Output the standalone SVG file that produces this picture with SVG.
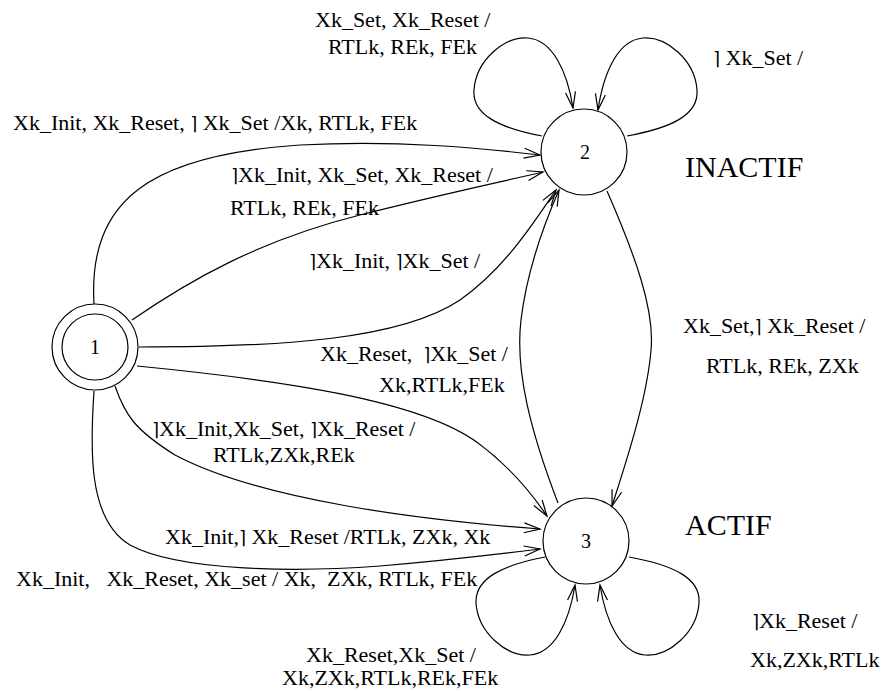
<svg xmlns="http://www.w3.org/2000/svg" width="882" height="691" viewBox="0 0 882 691" font-family="'Liberation Serif', 'Times New Roman', Times, serif">
  <style>
    .bg { fill: #ffffff; }
    .state { fill: #ffffff; stroke: #000000; stroke-width: 1.2; }
    text { font-family: "Liberation Serif", "Times New Roman", Times, serif; fill: #000000; }
    .num { font-size: 20px; text-anchor: middle; }
    .name { font-size: 30px; }
    .lbl { font-size: 22px; white-space: pre; }
    .neg { font-family: "DejaVu Sans", sans-serif; font-size: 18px; }
    .edge { fill: none; stroke: #000000; stroke-width: 1.2; marker-end: url(#arr); }
  </style>
  <defs>
    <!-- open V arrowhead -->
    <marker id="arr" markerUnits="userSpaceOnUse" markerWidth="18" markerHeight="12" refX="16" refY="5" orient="auto" overflow="visible">
      <path d="M0,0 L16,5 L0,10" fill="none" stroke="#000000" stroke-width="1.2"/>
    </marker>
  </defs>

  <rect class="bg" x="0" y="0" width="882" height="691"/>

  <!-- transitions -->
  <g id="connectors">
    <!-- 1 -> 2 -->
    <path class="edge" d="M94,304 C88,200 150,155 300,145 C400,140 480,148 540,155"/>
    <path class="edge" d="M132,320 C190,280 260,240 360,215 C430,197 500,182 543,172"/>
    <path class="edge" d="M139,347 C280,347 400,340 460,300 C505,268 532,225 556,190"/>
    <!-- 1 -> 3 -->
    <path class="edge" d="M137,366 C280,380 420,400 478,443 C505,463 528,488 547,516"/>
    <path class="edge" d="M115,386 C125,415 135,430 175,455 C260,500 420,520 540,529"/>
    <path class="edge" d="M94,391 C90,450 88,520 130,545 C180,572 300,572 380,566 C440,561 500,554 540,549"/>
    <!-- 2 -> 3 and 3 -> 2 -->
    <path class="edge" d="M607,191 C635,255 655,310 651,350 C647,400 625,465 612,506"/>
    <path class="edge" d="M558,503 C530,430 515,370 521,320 C527,270 545,222 559,190"/>
    <!-- self loops on 2 -->
    <path class="edge" d="M542,136 C500,128 472,115 474,90 C476,60 505,36 528,38 C552,40 567,70 573,108"/>
    <path class="edge" d="M627,136 C671,128 699,115 697,90 C695,60 666,36 643,38 C619,40 604,70 598,110"/>
    <!-- self loops on 3 -->
    <path class="edge" d="M545,557 C503,565 475,578 476,603 C478,633 507,657 530,655 C554,653 569,623 575,585"/>
    <path class="edge" d="M629,557 C673,565 701,578 699,603 C697,633 668,657 645,655 C621,653 606,623 600,585"/>
  </g>

  <!-- states -->
  <g id="node1">
    <circle class="state" cx="95" cy="347" r="43"/>
    <circle class="state" cx="95" cy="347" r="33"/>
    <text class="num" x="95" y="354">1</text>
  </g>
  <g id="node2">
    <circle class="state" cx="584" cy="152" r="43"/>
    <text class="num" x="585" y="159">2</text>
    <text class="name" x="685" y="177">INACTIF</text>
  </g>
  <g id="node3">
    <circle class="state" cx="586" cy="541" r="43"/>
    <text class="num" x="586" y="548">3</text>
    <text class="name" x="685" y="535">ACTIF</text>
  </g>

  <!-- guard / action annotations -->
  <g id="annotations">
    <text class="lbl" x="315" y="27">Xk_Set, Xk_Reset /</text>
    <text class="lbl" x="328" y="54">RTLk, REk, FEk</text>
    <text class="lbl" x="713" y="65"><tspan class="neg">⌉</tspan> Xk_Set /</text>
    <text class="lbl" x="13" y="130">Xk_Init, Xk_Reset, <tspan class="neg">⌉</tspan> Xk_Set /Xk, RTLk, FEk</text>
    <text class="lbl" x="231" y="182"><tspan class="neg">⌉</tspan>Xk_Init, Xk_Set, Xk_Reset /</text>
    <text class="lbl" x="230" y="215">RTLk, REk, FEk</text>
    <text class="lbl" x="309" y="268"><tspan class="neg">⌉</tspan>Xk_Init, <tspan class="neg">⌉</tspan>Xk_Set /</text>
    <text class="lbl" x="683" y="333">Xk_Set,<tspan class="neg">⌉</tspan> Xk_Reset /</text>
    <text class="lbl" x="706" y="373">RTLk, REk, ZXk</text>
    <text class="lbl" x="320" y="361" xml:space="preserve">Xk_Reset,  <tspan class="neg">⌉</tspan>Xk_Set /</text>
    <text class="lbl" x="379" y="392">Xk,RTLk,FEk</text>
    <text class="lbl" x="152" y="436"><tspan class="neg">⌉</tspan>Xk_Init,Xk_Set, <tspan class="neg">⌉</tspan>Xk_Reset /</text>
    <text class="lbl" x="213" y="462">RTLk,ZXk,REk</text>
    <text class="lbl" x="165" y="544">Xk_Init,<tspan class="neg">⌉</tspan> Xk_Reset /RTLk, ZXk, Xk</text>
    <text class="lbl" x="16" y="586" xml:space="preserve">Xk_Init,   Xk_Reset, Xk_set / Xk,  ZXk, RTLk, FEk</text>
    <text class="lbl" x="752" y="628"><tspan class="neg">⌉</tspan>Xk_Reset /</text>
    <text class="lbl" x="306" y="662">Xk_Reset,Xk_Set /</text>
    <text class="lbl" x="282" y="685">Xk,ZXk,RTLk,REk,FEk</text>
    <text class="lbl" x="750" y="667">Xk,ZXk,RTLk</text>
  </g>
</svg>
